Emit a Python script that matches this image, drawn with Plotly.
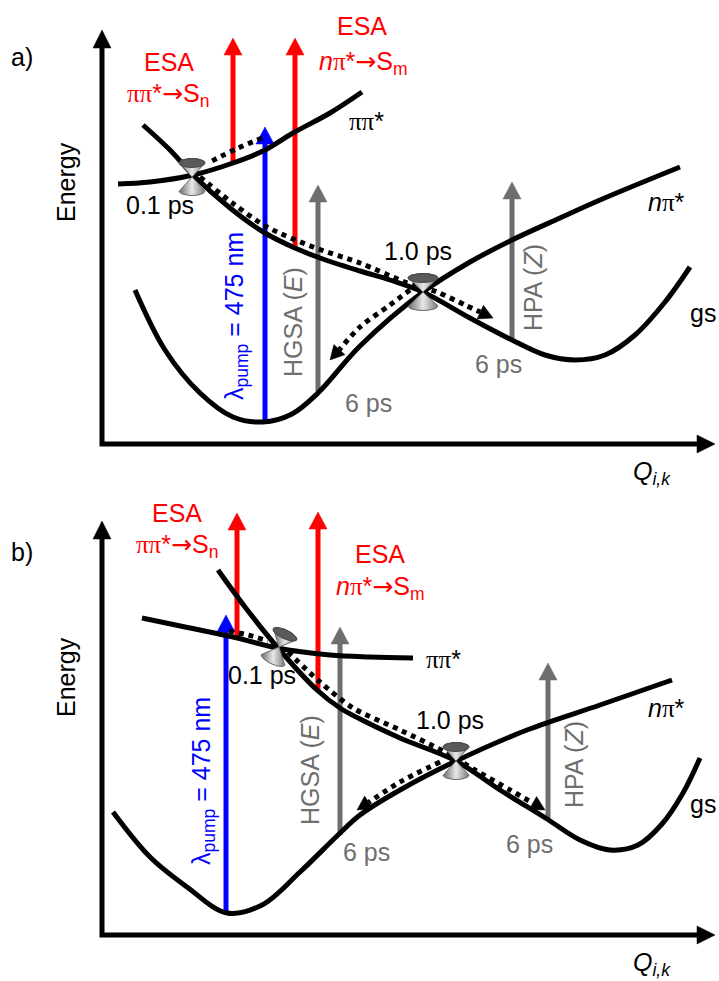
import numpy as np
import plotly.graph_objects as go

FONT = "Liberation Sans, Arial, sans-serif"
SERIF = "Liberation Serif"
RED = "#ff0000"
BLUE = "#0000ff"
GRAY = "#6e6e6e"
BLACK = "#000000"
FS = 25

# ---------------- panel a ----------------
# potential energy curves: reaction coordinate Q (px units) vs energy
a_pipi_q = [118, 150, 193, 233, 265, 293, 330, 362]
a_pipi_e = [306, 308, 315, 327, 340, 357, 377, 398]
a_npi_q = [143, 170, 193, 230, 265, 295, 320, 360, 390, 423, 470, 512, 545, 575, 605, 635, 665, 690]
a_npi_e = [365, 340, 315, 282, 257, 242, 232, 219, 210, 198, 172, 150, 135, 130, 135, 155, 188, 223]
a_gs_q = [135, 165, 200, 233, 263, 292, 318, 360, 423, 470, 512, 560, 600, 680]
a_gs_e = [200, 140, 97, 73, 68, 76, 97, 144, 198, 228, 250, 272, 290, 323]

# vertical transitions (ESA, pump, HGSA, HPA)
a_tr_q = [233, 295, 265, 318, 512]
a_tr_from = [327, 242, 68, 97, 150]
a_tr_to = [452, 452, 363, 305, 308]
a_tr_color = [RED, RED, BLUE, GRAY, GRAY]

# relaxation pathways (dotted)
a_path1_q = [262, 236, 210]
a_path1_e = [352, 341, 328]
a_path2_q = [200, 235, 267, 313, 360, 405, 437, 465, 493]
a_path2_e = [313, 285, 263, 243, 227, 208, 198, 185, 172]
a_path3_q = [410, 390, 360, 330]
a_path3_e = [200, 185, 163, 130]

# conical intersections: apex position, tilt and half-width
a_ci_q = [192, 423]
a_ci_e = [313, 198]
a_ci_rot = [0, 0]
a_ci_size = [13, 15]

# ---------------- panel b ----------------
b_pipi_q = [142, 190, 233, 277, 330, 370, 413]
b_pipi_e = [363, 353, 344, 333, 326, 324, 323]
b_npi_q = [218, 245, 278, 317, 340, 360, 400, 456, 500, 547, 580, 610, 638, 662, 683, 700]
b_npi_e = [411, 374, 333, 291, 273, 262, 243, 220, 191, 162, 141, 131, 136, 157, 188, 223]
b_gs_q = [113, 150, 187, 227, 262, 300, 338, 360, 400, 456, 527, 600, 672]
b_gs_e = [169, 124, 94, 68, 76, 109, 146, 166, 191, 220, 251, 276, 301]

b_tr_q = [237, 318, 226, 340, 548]
b_tr_from = [343, 291, 68, 146, 163]
b_tr_to = [468, 469, 366, 354, 318]
b_tr_color = [RED, RED, BLUE, GRAY, GRAY]

b_path1_q = [229, 248, 268]
b_path1_e = [350, 346, 340]
b_path2_q = [288, 320, 353, 400, 445, 475, 510, 545]
b_path2_e = [329, 299, 273, 251, 229, 211, 191, 171]
b_path3_q = [440, 400, 357]
b_path3_e = [219, 199, 171]

b_ci_q = [279, 456]
b_ci_e = [334, 220]
b_ci_rot = [-25, 0]
b_ci_size = [13, 13]

# schematic axes (shared geometry of both panels)
axis_origin_q, axis_origin_e = 102, 46
axis_top_e = 460
axis_right_q = 715

PI = "<span style='font-family:%s'>ππ</span>" % SERIF
PI1 = "<span style='font-family:%s'>π</span>" % SERIF
ARROW = "<span style='font-family:DejaVu Sans'>→</span>"

a_lbl_text = ["ESA", PI + "*" + ARROW + "S<sub>n</sub>", "ESA",
              "<i>n</i>" + PI1 + "*" + ARROW + "S<sub>m</sub>",
              PI + "*", "<i>n</i>" + PI1 + "*", "gs", "0.1 ps", "1.0 ps", "6 ps", "6 ps",
              "a)", "<i>Q</i><sub><i>i,k</i></sub>"]
a_lbl_q = [169, 168, 362, 363, 366, 666, 703, 160, 418, 368, 498, 22, 652]
a_lbl_e = [428, 395, 464, 427, 369, 288, 177, 285, 239, 87, 126, 433, 17]
a_lbl_color = [RED, RED, RED, RED, BLACK, BLACK, BLACK, BLACK, BLACK, GRAY, GRAY, BLACK, BLACK]

b_lbl_text = list(a_lbl_text)
b_lbl_text[11] = "b)"
b_lbl_q = [177, 177, 380, 380, 443, 666, 703, 262, 450, 366, 529, 22, 652]
b_lbl_e = [468, 435, 427, 393, 322, 273, 177, 306, 261, 129, 137, 429, 17]
b_lbl_color = a_lbl_color

# rotated labels
rot_text = ["λ<sub>pump</sub> = 475 nm", "HGSA (<i>E</i>)", "HPA (<i>Z</i>)", "Energy"]
rot_color = [BLUE, GRAY, GRAY, BLACK]
a_rot_q = [236, 293, 533, 66]
a_rot_e = [174, 168, 202, 308]
b_rot_q = [203, 310, 574, 66]
b_rot_e = [200, 211, 216, 304]

fig = go.Figure()


def head(qt, et, dq, de, length, half, color, xa, ya):
    n = np.hypot(dq, de)
    dq, de = dq / n, de / n
    bq, be = qt - dq * length, et - de * length
    pq, pe = -de, dq
    fig.add_trace(go.Scatter(
        x=[qt, bq + pq * half, bq - pq * half, qt],
        y=[et, be + pe * half, be - pe * half, et],
        mode="lines", fill="toself", fillcolor=color,
        line=dict(color=color, width=0.5), xaxis=xa, yaxis=ya, hoverinfo="skip"))
    return bq, be


def curve(q, e, xa, ya):
    fig.add_trace(go.Scatter(x=q, y=e, mode="lines",
                             line=dict(color=BLACK, width=5, shape="spline", smoothing=1.0),
                             xaxis=xa, yaxis=ya, hoverinfo="skip"))


def transitions(qs, froms, tos, colors, xa, ya):
    for q, e0, e1, c in zip(qs, froms, tos, colors):
        bq, be = head(q, e1, 0, 1, 17, 9, c, xa, ya)
        fig.add_trace(go.Scatter(x=[q, q], y=[e0, be + 1], mode="lines",
                                 line=dict(color=c, width=5),
                                 xaxis=xa, yaxis=ya, hoverinfo="skip"))


def dotted(q, e, xa, ya, arrow=True):
    q = list(q)
    e = list(e)
    if arrow:
        bq, be = head(q[-1], e[-1], q[-1] - q[-2], e[-1] - e[-2], 14, 7.5, BLACK, xa, ya)
        q[-1], e[-1] = bq, be
    fig.add_trace(go.Scatter(x=q, y=e, mode="lines",
                             line=dict(color=BLACK, width=5, dash="5px,5px",
                                       shape="spline", smoothing=0.8),
                             xaxis=xa, yaxis=ya, hoverinfo="skip"))


def cone(q0, e0, rot, a, xa, ya):
    th = np.radians(rot)
    c, s = np.cos(th), np.sin(th)
    h, b = 14, 4.5

    def tf(u, v):
        u = np.asarray(u, float)
        v = np.asarray(v, float)
        return q0 + u * c - v * s, e0 + u * s + v * c

    t = np.linspace(0, np.pi, 30)
    for sgn in (1, -1):
        u = np.concatenate([[0], -a * np.cos(t), [0]])
        v = np.concatenate([[0], sgn * (h + b * np.sin(t)), [0]])
        x, y = tf(u, v)
        fig.add_trace(go.Scatter(
            x=x, y=y, mode="lines", fill="toself",
            fillgradient=dict(type="horizontal",
                              colorscale=[[0, "#6a6a6a"], [0.5, "#e8e8e8"], [1, "#7a7a7a"]]),
            line=dict(color="#666666", width=1), xaxis=xa, yaxis=ya, hoverinfo="skip"))
    t2 = np.linspace(0, 2 * np.pi, 50)
    x, y = tf(a * np.cos(t2), h + b * np.sin(t2))
    fig.add_trace(go.Scatter(x=x, y=y, mode="lines", fill="toself", fillcolor="#5a5a5a",
                             line=dict(color="#444444", width=1),
                             xaxis=xa, yaxis=ya, hoverinfo="skip"))


def axes(xa, ya):
    tq, te = head(axis_origin_q, axis_top_e, 0, 1, 18, 9, BLACK, xa, ya)
    rq, re = head(axis_right_q, axis_origin_e, 1, 0, 18, 9, BLACK, xa, ya)
    fig.add_trace(go.Scatter(x=[axis_origin_q, axis_origin_q, rq + 1],
                             y=[te + 1, axis_origin_e, axis_origin_e], mode="lines",
                             line=dict(color=BLACK, width=5),
                             xaxis=xa, yaxis=ya, hoverinfo="skip"))


def labels(texts, qs, es, colors, xr, yr):
    for t, q, e, c in zip(texts, qs, es, colors):
        fig.add_annotation(text=t, x=q, y=e, xref=xr, yref=yr, showarrow=False,
                           xanchor="center", yanchor="middle",
                           font=dict(family=FONT, size=FS, color=c))


def rot_labels(qs, es, xr, yr):
    for t, q, e, c in zip(rot_text, qs, es, rot_color):
        fig.add_annotation(text=t, x=q, y=e, xref=xr, yref=yr, showarrow=False,
                           textangle=-90, xanchor="center", yanchor="middle",
                           font=dict(family=FONT, size=FS, color=c))


panels = [
    ("x", "y", a_pipi_q, a_pipi_e, a_npi_q, a_npi_e, a_gs_q, a_gs_e,
     a_tr_q, a_tr_from, a_tr_to, a_tr_color,
     [(a_path1_q, a_path1_e, False), (a_path2_q, a_path2_e, True), (a_path3_q, a_path3_e, True)],
     a_ci_q, a_ci_e, a_ci_rot, a_ci_size,
     a_lbl_text, a_lbl_q, a_lbl_e, a_lbl_color, a_rot_q, a_rot_e),
    ("x2", "y2", b_pipi_q, b_pipi_e, b_npi_q, b_npi_e, b_gs_q, b_gs_e,
     b_tr_q, b_tr_from, b_tr_to, b_tr_color,
     [(b_path1_q, b_path1_e, False), (b_path2_q, b_path2_e, True), (b_path3_q, b_path3_e, True)],
     b_ci_q, b_ci_e, b_ci_rot, b_ci_size,
     b_lbl_text, b_lbl_q, b_lbl_e, b_lbl_color, b_rot_q, b_rot_e),
]

for (xa, ya, pq, pe, nq, ne, gq, ge, tq, tf_, tt, tc, paths,
     cq, ce, cr, cs, lt, lq, le, lc, rq, re) in panels:
    axes(xa, ya)
    transitions(tq, tf_, tt, tc, xa, ya)
    curve(pq, pe, xa, ya)
    curve(nq, ne, xa, ya)
    curve(gq, ge, xa, ya)
    for q, e, arr in paths:
        dotted(q, e, xa, ya, arr)
    for q0, e0, r, s in zip(cq, ce, cr, cs):
        cone(q0, e0, r, s, xa, ya)
    labels(lt, lq, le, lc, xa, ya)
    rot_labels(rq, re, xa, ya)

D = 491 / 981
ax_common = dict(visible=False, fixedrange=True)
fig.update_layout(
    width=719, height=981, autosize=False,
    margin=dict(l=0, r=0, t=0, b=0),
    paper_bgcolor="white", plot_bgcolor="white",
    showlegend=False,
    xaxis=dict(domain=[0, 1], range=[0, 719], anchor="y", **ax_common),
    yaxis=dict(domain=[D, 1], range=[0, 490], anchor="x", **ax_common),
    xaxis2=dict(domain=[0, 1], range=[0, 719], anchor="y2", **ax_common),
    yaxis2=dict(domain=[0, D], range=[0, 491], anchor="x2", **ax_common),
)

fig.write_html("out.html")
